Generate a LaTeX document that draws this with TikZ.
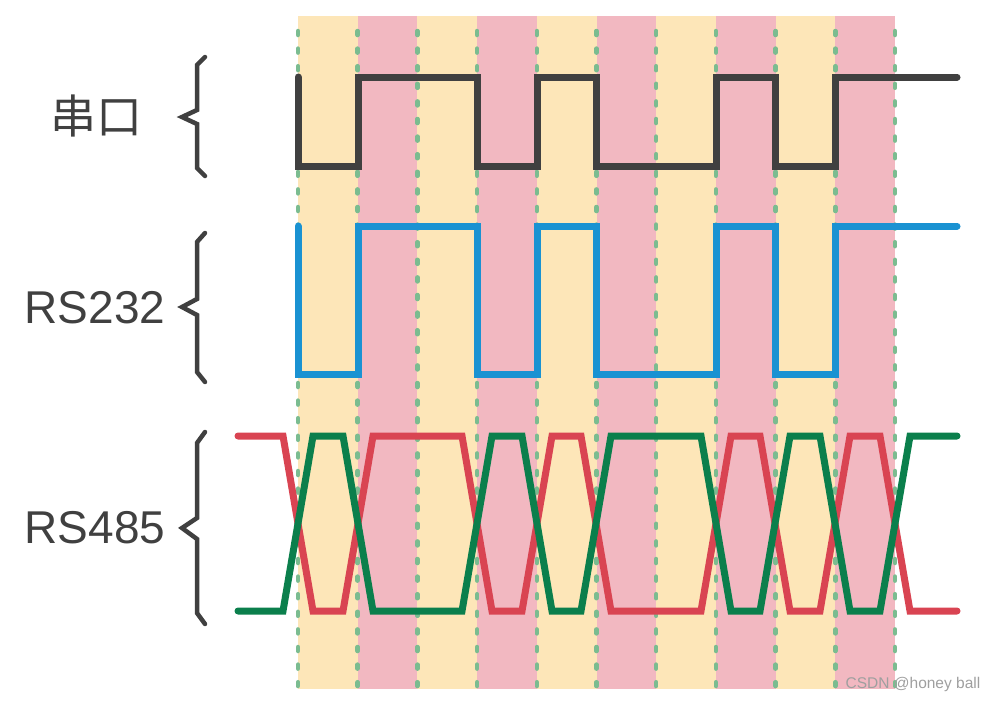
\documentclass[tikz,border=0pt]{standalone}
\usepackage{fontspec}
\setmainfont{Liberation Sans}
\newfontfamily\cjk{Noto Sans CJK SC}
\definecolor{stripeY}{HTML}{FDE6B8}
\definecolor{stripeP}{HTML}{F2B8C1}
\definecolor{dashG}{HTML}{7BBC90}
\definecolor{inkD}{HTML}{404040}
\definecolor{sigB}{HTML}{1A92D2}
\definecolor{sigR}{HTML}{D94452}
\definecolor{sigG}{HTML}{0B7F4C}
\tikzset{
  sig/.style={line width=7pt, line cap=round, line join=miter},
  gridline/.style={dashG, line width=4.5pt, line cap=round, dash pattern=on 4pt off 13.6pt},
  bracebar/.style={inkD, line width=4.5pt, line cap=round, line join=miter},
  lbl/.style={inkD, font=\fontsize{46}{50}\selectfont, inner sep=0pt},
}
\begin{document}
\begin{tikzpicture}[x=1pt,y=-1pt]
\useasboundingbox (0,0) rectangle (995,702);
% stripes
\foreach \i in {0,...,9} {
  \pgfmathsetmacro{\xa}{298+59.7*\i}
  \pgfmathsetmacro{\xb}{298+59.7*(\i+1)}
  \pgfmathtruncatemacro{\odd}{mod(\i,2)}
  \ifnum\odd=0
    \fill[stripeY] (\xa,16) rectangle (\xb,689);
  \else
    \fill[stripeP] (\xa,16) rectangle (\xb,689);
  \fi
}
% dashed boundaries
\foreach \i in {0,...,10} {
  \pgfmathsetmacro{\xa}{298+59.7*\i}
  \draw[gridline] (\xa,31) -- (\xa,686);
}
% serial
\draw[sig, inkD] (298,77) -- (298,166) -- (358,166) -- (358,77) -- (477,77) -- (477,166) -- (537,166) -- (537,77) -- (596,77) -- (596,166) -- (716,166) -- (716,77) -- (775,77) -- (775,166) -- (835,166) -- (835,77) -- (957,77);
% RS232
\draw[sig, sigB] (298,226) -- (298,374) -- (358,374) -- (358,226) -- (477,226) -- (477,374) -- (537,374) -- (537,226) -- (596,226) -- (596,374) -- (716,374) -- (716,226) -- (775,226) -- (775,374) -- (835,374) -- (835,226) -- (957,226);
% RS485 red
\draw[sig, sigR] (238,436) -- (283,436) -- (313,611) -- (343,611) -- (373,436) -- (462,436) -- (492,611) -- (522,611) -- (552,436) -- (581,436) -- (611,611) -- (701,611) -- (731,436) -- (760,436) -- (790,611) -- (820,611) -- (850,436) -- (880,436) -- (910,611) -- (957,611);
% RS485 green
\draw[sig, sigG] (238,611) -- (283,611) -- (313,436) -- (343,436) -- (373,611) -- (462,611) -- (492,436) -- (522,436) -- (552,611) -- (581,611) -- (611,436) -- (701,436) -- (731,611) -- (760,611) -- (790,436) -- (820,436) -- (850,611) -- (880,611) -- (910,436) -- (957,436);
% braces
\draw[bracebar] (205,57) -- (197,65) -- (197,110) -- (182,117) -- (197,124) -- (197,168) -- (205,176);
\draw[bracebar] (205,233) -- (197,242) -- (197,299) -- (182,307) -- (197,315) -- (197,372) -- (205,382);
\draw[bracebar] (205,432) -- (197,443) -- (197,518) -- (182,528) -- (197,539) -- (197,613) -- (205,624);
% labels
\node[lbl] (serial) at (96,116) {\cjk 串口};
\node[lbl] (rs232) at (95,308) {RS232};
\node[lbl] (rs485) at (95,528) {RS485};
\node[text=gray!75, font=\fontsize{15.5}{16}\selectfont, inner sep=0pt] (wm) at (913,684) {CSDN @honey ball};
\end{tikzpicture}
\end{document}
